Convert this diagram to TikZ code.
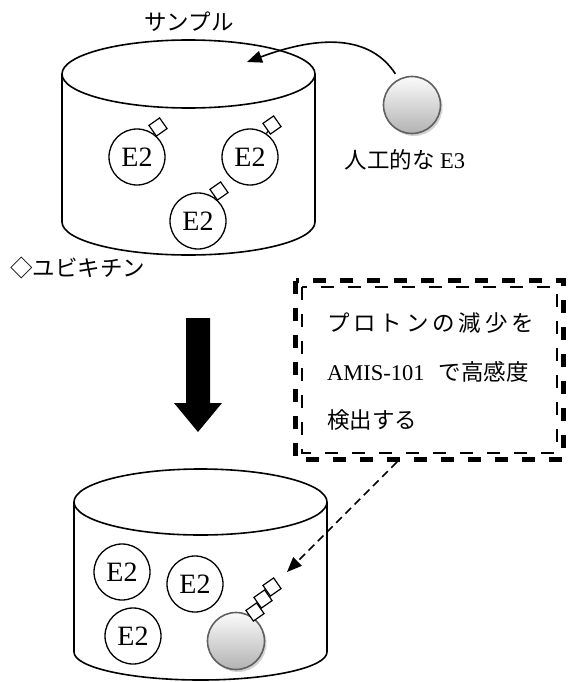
\documentclass[tikz,border=0pt]{standalone}
\usepackage{fontspec}
\setmainfont{Liberation Serif}
\newfontfamily\jp{Noto Sans CJK JP}
\usetikzlibrary{arrows.meta, shadows}

\begin{document}
\begin{tikzpicture}[
    x=1pt, y=1pt,
    >={Triangle[length=15pt, width=12pt]},
    cyl/.style={line width=1.6pt},
    enz/.style={draw, circle, line width=1.3pt, minimum size=56pt, inner sep=0pt, font=\fontsize{28}{28}\selectfont},
    ubq/.style={draw, fill=white, line width=1.2pt, minimum size=13pt, inner sep=0pt, rotate=35},
    ball/.style={circle, draw=gray!75!black, line width=1.6pt, minimum size=57pt, top color=gray!3, bottom color=gray!60,
        drop shadow={shadow xshift=2pt, shadow yshift=-2.5pt, opacity=0.35, fill=gray}},
    jtext/.style={font=\jp\fontsize{22.5}{27}\selectfont, inner sep=0pt},
    boxdash/.style={dash pattern=on 13pt off 14pt},
]
    \useasboundingbox (0,0) rectangle (567,-682);

    % sample vessel before the reaction
    \node[jtext] (samplelbl) at (189,-22) {サンプル};
    \draw[cyl] (188.5,-74) ellipse [x radius=126.5, y radius=34];
    \draw[cyl] (62,-74) -- (62,-222) arc[start angle=180, end angle=360, x radius=126.5, y radius=33] -- (315,-74);

    \node[enz] (e2a) at (137,-157) {E2};
    \node[enz] (e2b) at (250,-157) {E2};
    \node[enz] (e2c) at (198,-221) {E2};
    \node[ubq] (ua) at (158,-127) {};
    \node[ubq] (ub) at (272,-125) {};
    \node[ubq] (uc) at (219,-191) {};
    \draw[line width=1.2pt] (e2a.55) -- (ua) (e2b.55) -- (ub) (e2c.55) -- (uc);

    % artificial E3 added to the sample
    \node[ball] (e3) at (412,-105) {};
    \node[jtext] (e3lbl) at (405,-160) {人工的な \fontsize{22.5}{27}\rmfamily E3};
    \coordinate (pour) at (247,-62);
    \draw[line width=1.6pt, ->, shorten <=6pt] (e3.117) .. controls (370,-35) and (320,-35) .. (pour);

    \node[jtext, anchor=west] (ubqlbl) at (10,-268) {◇ユビキチン};

    % reaction step
    \fill (186,-318) -- (210,-318) -- (210,-403) -- (222,-403) -- (198,-432) -- (174,-403) -- (186,-403) -- cycle;

    % note box, thick-thin dashed border
    \draw[line width=5pt, boxdash] (295.5,-280.5) rectangle (563.5,-459.5);
    \draw[line width=1.8pt, boxdash] (302,-287) rectangle (557,-453);
    \node[jtext, anchor=base west] (note1) at (327,-331) {\addfontfeature{LetterSpace=17}プロトンの減少を};
    \node[jtext, anchor=base west] (note2) at (327,-380) {\rmfamily AMIS-101\hspace{14pt}\jp で高感度};
    \node[jtext, anchor=base west] (note3) at (327,-428) {検出する};
    \coordinate (boxbot) at (397,-462);

    % sample vessel after the reaction
    \draw[cyl] (200.5,-502) ellipse [x radius=126.5, y radius=33];
    \draw[cyl] (74,-502) -- (74,-652) arc[start angle=180, end angle=360, x radius=126.5, y radius=28] -- (327,-502);

    \node[enz] (e2d) at (122,-572) {E2};
    \node[enz] (e2e) at (195,-584) {E2};
    \node[enz] (e2f) at (133,-636) {E2};
    \node[ball] (e3b) at (236,-641) {};
    \draw[line width=1.2pt] (e3b.57) -- (255,-612);
    \node[ubq] (u4) at (255,-612) {};
    \node[ubq] (u5) at (263,-599) {};
    \node[ubq] (u6) at (272,-587) {};

    \draw[line width=1.5pt, dash pattern=on 8pt off 5pt, ->, shorten >=14pt] (boxbot) -- (u6);
\end{tikzpicture}
\end{document}
